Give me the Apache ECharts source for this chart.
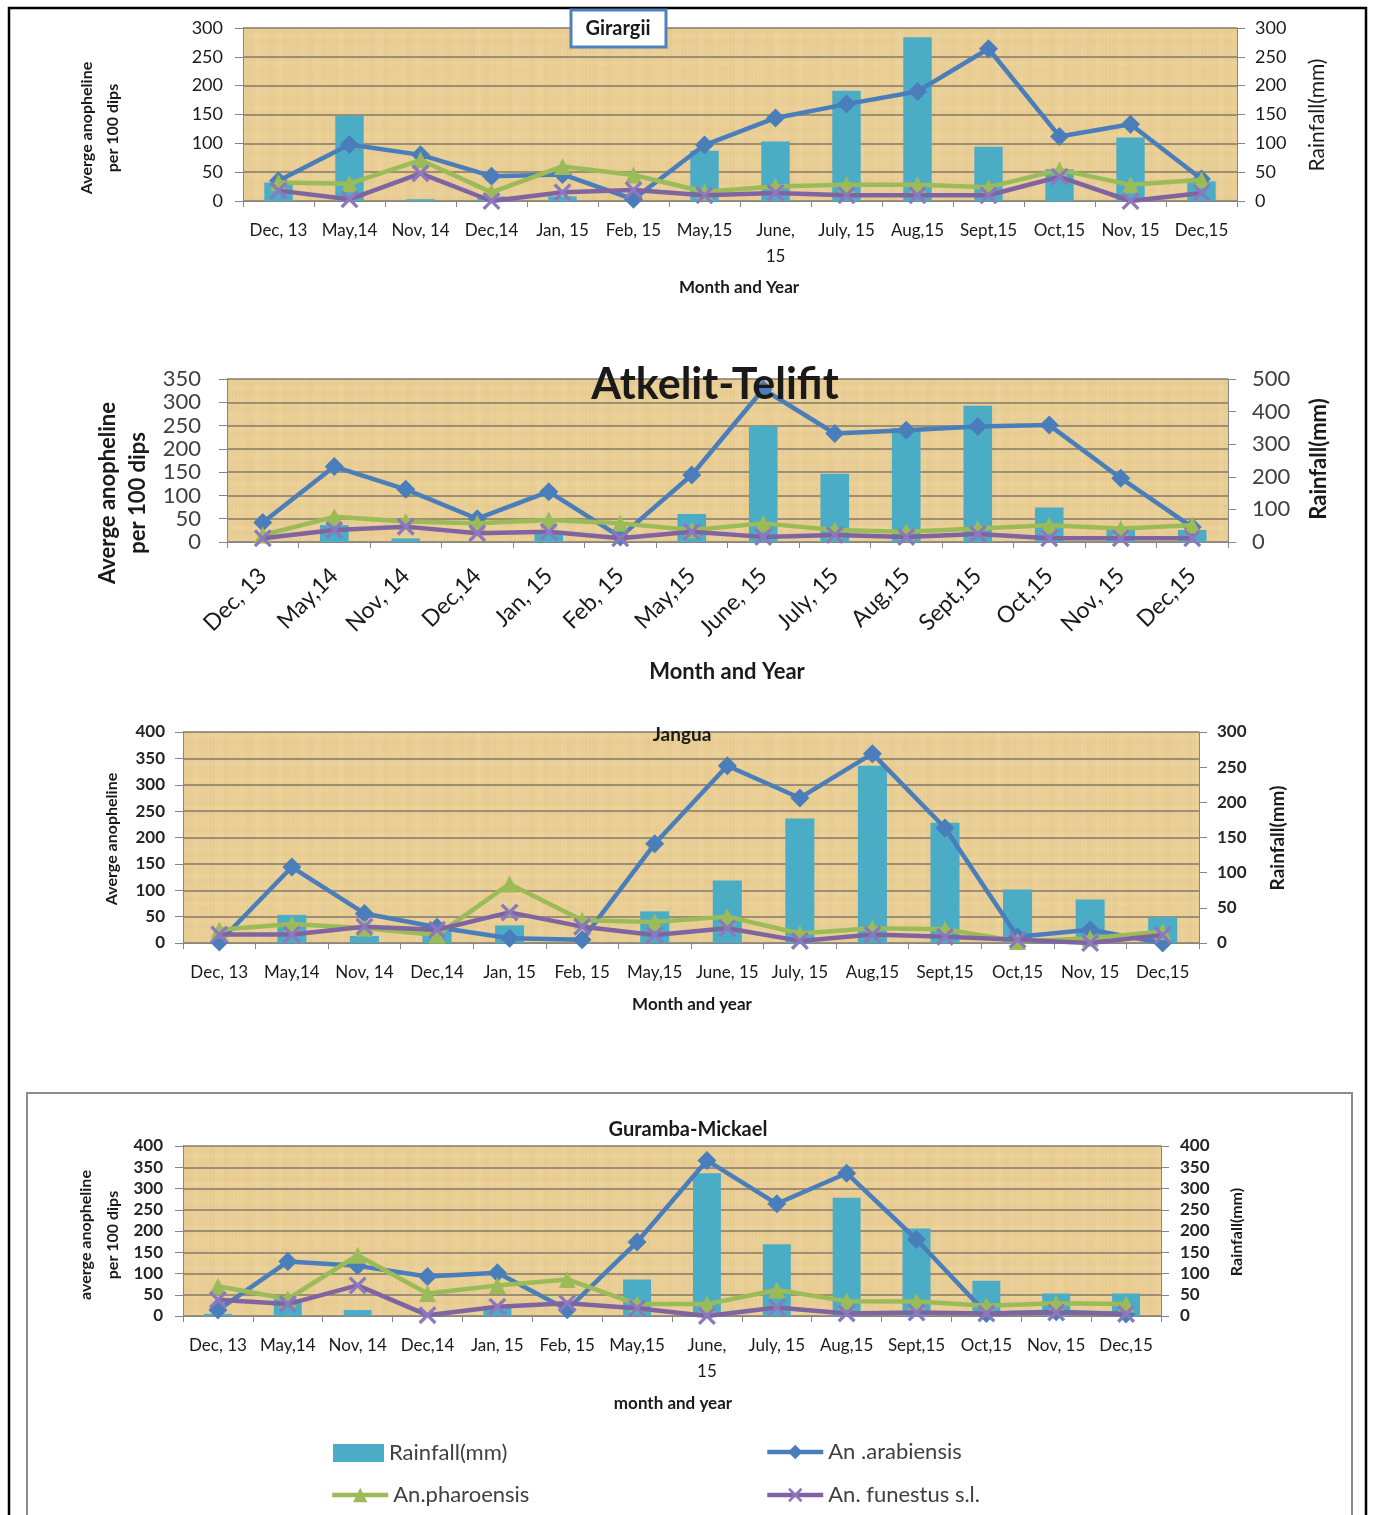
<!DOCTYPE html>
<html>
<head>
<meta charset="utf-8">
<title>Anopheline density and rainfall</title>
<script src="https://cdn.jsdelivr.net/npm/echarts@6/dist/echarts.min.js"></script>
<style>
  html, body { margin: 0; padding: 0; background: #ffffff; }
  #chart { width: 1374px; height: 1515px; }
</style>
</head>
<body>
<div id="chart"></div>
<script>
// Months sampled
const months = ["Dec, 13", "May,14", "Nov, 14", "Dec,14", "Jan, 15", "Feb, 15", "May,15",
  "June, 15", "July, 15", "Aug,15", "Sept,15", "Oct,15", "Nov, 15", "Dec,15"];

// Girargii
const girargiiRain = [32, 148, 3, 8, 8, 0, 87, 103, 191, 284, 94, 55, 110, 34];
const girargiiArab = [35, 98, 80, 43, 46, 3, 97, 144, 168, 190, 264, 112, 133, 38];
const girargiiPhar = [32, 30, 71, 15, 60, 45, 16, 25, 28, 28, 24, 54, 28, 37];
const girargiiFun  = [18, 3, 48, 0, 15, 19, 10, 14, 10, 10, 10, 42, 0, 14];

// Atkelit-Telifit
const atkelitRain = [0, 52, 11, 0, 27, 0, 86, 356, 209, 350, 418, 106, 45, 37];
const atkelitArab = [42, 162, 113, 50, 108, 11, 144, 328, 233, 240, 248, 251, 137, 32];
const atkelitPhar = [15, 54, 44, 40, 47, 40, 26, 40, 26, 22, 29, 36, 29, 36];
const atkelitFun  = [8, 26, 33, 19, 22, 8, 22, 11, 15, 11, 17, 8, 8, 8];

// Jangua
const janguaRain = [0, 40, 10, 18, 25, 0, 45, 89, 177, 252, 171, 76, 62, 37];
const janguaArab = [2, 144, 56, 30, 9, 6, 188, 336, 275, 359, 218, 12, 25, 0];
const janguaPhar = [25, 36, 28, 15, 112, 43, 40, 50, 18, 28, 26, 3, 9, 22];
const janguaFun  = [16, 16, 31, 25, 58, 31, 15, 28, 4, 16, 12, 6, 0, 15];

// Guramba-Mickael
const gurambaRain = [5, 40, 14, 0, 20, 0, 86, 336, 169, 278, 206, 83, 53, 53];
const gurambaArab = [14, 128, 118, 93, 102, 15, 174, 366, 264, 336, 180, 6, 10, 5];
const gurambaPhar = [70, 40, 143, 53, 72, 86, 28, 28, 61, 35, 34, 24, 30, 28];
const gurambaFun  = [38, 28, 72, 2, 22, 30, 18, 0, 20, 6, 8, 6, 8, 5];

// Axis ranges: [leftMax, leftStep, rightMax, rightStep]
const girargiiScale = [300, 50, 300, 50];
const atkelitScale  = [350, 50, 500, 100];
const janguaScale   = [400, 50, 300, 50];
const gurambaScale  = [400, 50, 400, 50];

const FONT = 'Lato, "Open Sans", "Noto Sans", sans-serif';
const C_RAIN = '#4BACC6', C_ARAB = '#4A7EBB', C_PHAR = '#9BBB59', C_FUN = '#8064A2';
const CROSS = 'path://M0,1.3L1.3,0L5,3.7L8.7,0L10,1.3L6.3,5L10,8.7L8.7,10L5,6.3L1.3,10L0,8.7L3.7,5Z';

// parchment-like fill for the plot areas
function parchment() {
  const w = 260, h = 140;
  const c = document.createElement('canvas');
  c.width = w; c.height = h;
  const g = c.getContext('2d');
  g.fillStyle = '#E9CD92';
  g.fillRect(0, 0, w, h);
  for (let x = 0; x < w; x++) {
    const a = 0.14 + 0.10 * Math.sin(x * 0.41) * Math.sin(x * 0.093) + 0.07 * Math.sin(x * 1.7);
    g.fillStyle = 'rgba(248,232,190,' + Math.max(0, a).toFixed(3) + ')';
    g.fillRect(x, 0, 1, h);
  }
  for (let y = 0; y < h; y++) {
    const a = 0.04 + 0.05 * Math.sin(y * 0.57) * Math.sin(y * 0.13);
    g.fillStyle = 'rgba(200,160,90,' + Math.max(0, a).toFixed(3) + ')';
    g.fillRect(0, y, w, 1);
  }
  return c;
}
const paper = parchment();

const panels = [
  { grid: { left: 243, top: 28, width: 994, height: 173 }, scale: girargiiScale,
    rain: girargiiRain, arab: girargiiArab, phar: girargiiPhar, fun: girargiiFun,
    tick: { fontSize: 18, fontWeight: 'normal', color: '#1a1a1a' }, lm: 20, rm: 18,
    xl: { fontSize: 17, margin: 17, rotate: 0, wrap: true } },
  { grid: { left: 227, top: 379, width: 1001, height: 163 }, scale: atkelitScale,
    rain: atkelitRain, arab: atkelitArab, phar: atkelitPhar, fun: atkelitFun,
    tick: { fontSize: 22, fontWeight: 'normal', color: '#404040' }, lm: 26, rm: 24,
    xl: { fontSize: 23, margin: 30, rotate: 45, wrap: false } },
  { grid: { left: 183, top: 732, width: 1016, height: 211 }, scale: janguaScale,
    rain: janguaRain, arab: janguaArab, phar: janguaPhar, fun: janguaFun,
    tick: { fontSize: 17, fontWeight: 'bold', color: '#262626' }, lm: 18, rm: 18,
    xl: { fontSize: 17, margin: 17, rotate: 0, wrap: false } },
  { grid: { left: 183, top: 1146, width: 978, height: 170 }, scale: gurambaScale,
    rain: gurambaRain, arab: gurambaArab, phar: gurambaPhar, fun: gurambaFun,
    tick: { fontSize: 17, fontWeight: 'bold', color: '#262626' }, lm: 20, rm: 19,
    xl: { fontSize: 17, margin: 17, rotate: 0, wrap: true } }
];

const grids = [], xAxes = [], yAxes = [], series = [];
panels.forEach((p, i) => {
  grids.push(Object.assign({ show: true, borderWidth: 0, backgroundColor: { image: paper, repeat: 'repeat' } }, p.grid));
  xAxes.push({
    type: 'category', gridIndex: i, data: months, boundaryGap: true,
    axisLine: { lineStyle: { color: '#868686', width: 1 } },
    axisTick: { show: true, length: 6, lineStyle: { color: '#868686' } },
    axisLabel: {
      interval: 0, hideOverlap: false, fontFamily: FONT, fontSize: p.xl.fontSize,
      color: '#1a1a1a', margin: p.xl.margin, rotate: p.xl.rotate, lineHeight: 26,
      formatter: v => (p.xl.wrap && v === 'June, 15') ? 'June,\n15' : v
    }
  });
  const common = {
    type: 'value', gridIndex: i, min: 0,
    axisLine: { show: true, lineStyle: { color: '#868686', width: 1 } },
    axisTick: { show: true, length: 8, lineStyle: { color: '#868686' } }
  };
  yAxes.push(Object.assign({}, common, {
    position: 'left', max: p.scale[0], interval: p.scale[1],
    splitLine: { show: true, lineStyle: { color: '#857a68', width: 1.5 } },
    axisLabel: { fontFamily: FONT, fontSize: p.tick.fontSize, fontWeight: p.tick.fontWeight, color: p.tick.color, margin: p.lm }
  }));
  yAxes.push(Object.assign({}, common, {
    position: 'right', max: p.scale[2], interval: p.scale[3],
    splitLine: { show: false },
    axisLabel: { fontFamily: FONT, fontSize: p.tick.fontSize, fontWeight: p.tick.fontWeight, color: p.tick.color, margin: p.rm }
  }));
  series.push({
    name: 'Rainfall(mm)', type: 'bar', xAxisIndex: i, yAxisIndex: 2 * i + 1,
    data: p.rain, barWidth: '40%', itemStyle: { color: C_RAIN }, z: 2
  });
  series.push({
    name: 'An .arabiensis', type: 'line', xAxisIndex: i, yAxisIndex: 2 * i,
    data: p.arab, symbol: 'diamond', symbolSize: 19, showAllSymbol: true,
    lineStyle: { color: C_ARAB, width: 4.5 }, itemStyle: { color: C_ARAB }, z: 3
  });
  series.push({
    name: 'An.pharoensis', type: 'line', xAxisIndex: i, yAxisIndex: 2 * i,
    data: p.phar, symbol: 'triangle', symbolSize: 17, showAllSymbol: true,
    lineStyle: { color: C_PHAR, width: 4.5 }, itemStyle: { color: C_PHAR }, z: 4
  });
  series.push({
    name: 'An. funestus s.l.', type: 'line', xAxisIndex: i, yAxisIndex: 2 * i,
    data: p.fun, symbol: CROSS, symbolSize: 18, showAllSymbol: true,
    lineStyle: { color: C_FUN, width: 4.5 }, itemStyle: { color: '#8C78BE' }, z: 5
  });
});

const legendText = { fontFamily: FONT, fontSize: 22, color: '#404040' };
const legends = [
  { name: 'Rainfall(mm)', left: 333, top: 1442, w: 51, h: 18, icon: 'rect' },
  { name: 'An .arabiensis', left: 765, top: 1441, w: 56, h: 18 },
  { name: 'An.pharoensis', left: 330, top: 1484, w: 56, h: 18 },
  { name: 'An. funestus s.l.', left: 765, top: 1484, w: 56, h: 18 }
].map(l => {
  const o = {
    data: [l.name], left: l.left, top: l.top, itemWidth: l.w, itemHeight: l.h,
    selectedMode: false, textStyle: legendText, padding: 0,
    lineStyle: { width: 4.5 }
  };
  if (l.icon) o.icon = l.icon;
  return o;
});

function txt(x, y, text, size, weight, opts) {
  return Object.assign({
    type: 'text', x: x, y: y, z: 50,
    style: Object.assign({
      text: text, fontFamily: FONT, fontSize: size, fontWeight: weight,
      fill: '#1a1a1a', align: 'center', verticalAlign: 'middle', lineHeight: Math.round(size * 1.6)
    }, (opts && opts.style) || {})
  }, (opts && opts.el) || {});
}
const vert = { el: { rotation: Math.PI / 2 } };

const graphics = [
  // outer frame
  { type: 'rect', z: 1, shape: { x: 9, y: 8, width: 1357, height: 1530 },
    style: { fill: null, stroke: '#000', lineWidth: 2.5 } },
  // box round the last site
  { type: 'rect', z: 1, shape: { x: 27, y: 1093, width: 1325, height: 440 },
    style: { fill: null, stroke: '#8c8c8c', lineWidth: 2 } },
  // Girargii title box
  { type: 'rect', z: 49, shape: { x: 571, y: 10, width: 95, height: 37 },
    style: { fill: '#fff', stroke: '#4F81BD', lineWidth: 3 } },
  txt(618, 29, 'Girargii', 20, 'bold'),
  txt(715, 385, 'Atkelit-Telifit', 43, 'bold'),
  txt(682, 735, 'Jangua', 19, 'bold'),
  txt(688, 1130, 'Guramba-Mickael', 20, 'bold'),
  // x axis titles
  txt(739, 288, 'Month and Year', 17, 'bold'),
  txt(727, 672, 'Month and Year', 22, 'bold'),
  txt(692, 1005, 'Month and year', 17, 'bold'),
  txt(673, 1404, 'month and year', 17, 'bold'),
  // y axis titles
  txt(100, 128, 'Averge anopheline\nper 100 dips', 16, 'bold', { el: vert.el, style: { lineHeight: 26 } }),
  txt(1317, 115, 'Rainfall(mm)', 21, 'normal', vert),
  txt(123, 493, 'Averge anopheline\nper 100 dips', 22, 'bold', { el: vert.el, style: { lineHeight: 30 } }),
  txt(1319, 459, 'Rainfall(mm)', 22, 'bold', vert),
  txt(112, 839, 'Averge anopheline', 16, 'bold', vert),
  txt(1278, 838, 'Rainfall(mm)', 19, 'bold', vert),
  txt(99, 1235, 'averge anopheline\nper 100 dips', 16, 'bold', { el: vert.el, style: { lineHeight: 27 } }),
  txt(1237, 1232, 'Rainfall(mm)', 16, 'bold', vert)
];

const chart = echarts.init(document.getElementById('chart'), null, { renderer: 'canvas' });
chart.setOption({
  animation: false,
  backgroundColor: '#ffffff',
  grid: grids,
  xAxis: xAxes,
  yAxis: yAxes,
  legend: legends,
  series: series,
  graphic: graphics
});
</script>
</body>
</html>
